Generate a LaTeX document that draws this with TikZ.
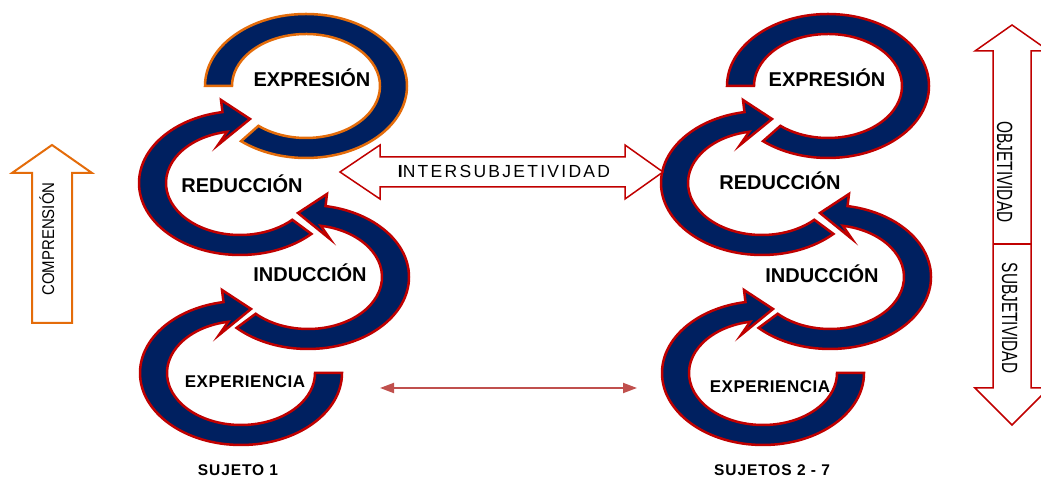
\documentclass[tikz,border=0pt]{standalone}
\usepackage{fontspec}
\usepackage{graphicx}
\setmainfont{Liberation Sans}
\usetikzlibrary{arrows.meta}
\definecolor{azul}{RGB}{0,32,96}
\definecolor{rojo}{RGB}{192,0,0}
\definecolor{naranja}{RGB}{228,108,10}
\definecolor{rojoclaro}{RGB}{192,80,77}
\begin{document}
\begin{tikzpicture}[x=1pt, y=1pt,
    banda/.style={fill=azul, draw=#1, line width=2.5pt, preaction={draw=white, line width=7pt}},
    etiqueta/.style={font=\fontsize{20}{24}\selectfont\bfseries, anchor=base, inner sep=0pt},
    sujeto/.style={font=\fontsize{15.5}{18}\selectfont\bfseries\addfontfeatures{LetterSpace=6}, anchor=north, inner sep=0pt},
  ]
  \useasboundingbox (0,0) rectangle (1041,478);

  % 理解の矢印
  \draw[naranja, line width=2pt, fill=white] (32,155) -- (32,305) -- (12,305) -- (52,333) -- (92,305) -- (72,305) -- (72,155) -- cycle;
  \node[rotate=90, anchor=base, inner sep=0pt, font=\fontsize{17}{18}\selectfont] (comp) at (54,239) {\scalebox{0.88}[1]{COMPRENSIÓN}};

  % 客観性・主観性の矢印
  \draw[rojo, line width=1.5pt, fill=white] (993,90) -- (993,427) -- (975,427) -- (1012,453) -- (1049,427) -- (1031,427)
    -- (1031,90) -- (1049,90) -- (1012,53) -- (975,90) -- cycle;
  \draw[rojo, line width=1.5pt] (993,234) -- (1031,234);
  \node[rotate=-90, anchor=base, inner sep=0pt, font=\fontsize{22}{24}\selectfont] (obj) at (997,306) {\scalebox{0.7}[1]{OBJETIVIDAD}};
  \node[rotate=-90, anchor=base, inner sep=0pt, font=\fontsize{22}{24}\selectfont] (subj) at (1002,160) {\scalebox{0.7}[1]{SUBJETIVIDAD}};

  % ループ (主体ごと)
  \foreach \gx/\rc in {0/naranja, 522/rojo} {
    \begin{scope}[shift={(\gx,0)}]
      % 表現
      \begin{scope}[shift={(306,392)}]
        \path[banda=\rc] (180:101pt and 72pt) arc[start angle=180, end angle=-130, x radius=101pt, y radius=72pt]
          -- (-130:74pt and 52pt) arc[start angle=-130, end angle=180, x radius=74pt, y radius=52pt] -- cycle;
      \end{scope}
      % 還元
      \begin{scope}[shift={(240,295)}]
        \path[banda=rojo] (-45:101pt and 72pt) arc[start angle=-45, end angle=-260, x radius=101pt, y radius=72pt]
          -- (-19,83) -- (10,64) -- (-22,38)
          -- (100:74pt and 52pt) arc[start angle=100, end angle=315, x radius=74pt, y radius=52pt] -- cycle;
      \end{scope}
      % 帰納
      \begin{scope}[shift={(308,201)}, xscale=-1]
        \path[banda=rojo] (-45:101pt and 72pt) arc[start angle=-45, end angle=-260, x radius=101pt, y radius=72pt]
          -- (-19,83) -- (10,64) -- (-22,38)
          -- (100:74pt and 52pt) arc[start angle=100, end angle=315, x radius=74pt, y radius=52pt] -- cycle;
      \end{scope}
      % 経験
      \begin{scope}[shift={(241,105)}]
        \path[banda=rojo] (0:101pt and 72pt) arc[start angle=0, end angle=-260, x radius=101pt, y radius=72pt]
          -- (-19,83) -- (10,64) -- (-22,38)
          -- (100:74pt and 52pt) arc[start angle=100, end angle=360, x radius=74pt, y radius=52pt] -- cycle;
      \end{scope}
    \end{scope}
  }

  % ラベル
  \node[etiqueta] (expr1) at (312,391) {EXPRESIÓN};
  \node[etiqueta] (red1) at (242,285) {REDUCCIÓN};
  \node[etiqueta] (ind1) at (310,196) {INDUCCIÓN};
  \node[etiqueta, font=\fontsize{17}{18}\selectfont\bfseries\addfontfeatures{LetterSpace=3}] (exp1) at (245,90) {EXPERIENCIA};
  \node[etiqueta] (expr2) at (827,391) {EXPRESIÓN};
  \node[etiqueta] (red2) at (780,288) {REDUCCIÓN};
  \node[etiqueta] (ind2) at (822,195) {INDUCCIÓN};
  \node[etiqueta, font=\fontsize{17}{18}\selectfont\bfseries\addfontfeatures{LetterSpace=3}] (exp2) at (770,85) {EXPERIENCIA};
  \node[sujeto] (suj1) at (238,14) {SUJETO 1};
  \node[sujeto] (suj2) at (772,14) {SUJETOS 2 - 7};

  % 間主観性の矢印
  \draw[rojo, line width=1.5pt, fill=white] (340,306) -- (380,333) -- (380,321) -- (625,321) -- (625,333) -- (663,306)
    -- (625,279) -- (625,291) -- (380,291) -- (380,279) -- cycle;
  \node[anchor=base, inner sep=0pt, font=\fontsize{17.5}{18}\selectfont\addfontfeatures{LetterSpace=13}] (inter) at (504,300) {{\bfseries I}NTERSUBJETIVIDAD};

  % 下の矢印
  \coordinate (izq) at (380,90);
  \coordinate (der) at (637,90);
  \draw[rojoclaro, line width=2pt, {Triangle[length=14pt, width=10pt]}-{Triangle[length=14pt, width=10pt]}] (izq) -- (der);
\end{tikzpicture}
\end{document}
